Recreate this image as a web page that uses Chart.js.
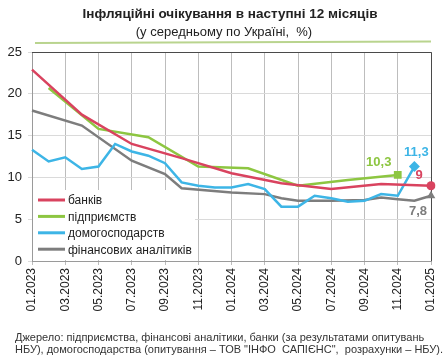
<!DOCTYPE html>
<html lang="uk">
<head>
<meta charset="utf-8">
<script src="https://cdn.jsdelivr.net/npm/chart.js@4.4.1/dist/chart.umd.min.js"></script>
<style>
  html, body { margin: 0; padding: 0; background: #fff; }
  #wrap { position: relative; width: 443px; height: 363px; font-family: Arial, "Liberation Sans", sans-serif; color: #222; }
  #chart { position: absolute; left: 0; top: 0; }
  .title { position: absolute; left: 0; text-align: center; line-height: 15px; white-space: nowrap; }
  #t1 { top: 6px; width: 460px; font-size: 13.5px; font-weight: bold; }
  #t2 { top: 24px; width: 448px; font-size: 13px; }
  #src { position: absolute; left: 15px; top: 331px; font-size: 11px; line-height: 12px; color: #333; white-space: nowrap; }
</style>
</head>
<body>
<div id="wrap">
  <canvas id="chart" width="443" height="363"></canvas>
  <div class="title" id="t1">Інфляційні очікування в наступні 12 місяців</div>
  <div class="title" id="t2">(у середньому по Україні,&nbsp; %)</div>
  <div id="src">Джерело: підприємства, фінансові аналітики, банки (за результатами опитувань<br>НБУ), домогосподарства (опитування – ТОВ "ІНФО&nbsp; САПІЄНС",&nbsp; розрахунки – НБУ).</div>
</div>
<script>
// місяці 01.2023 - 01.2025
const months = ['01.2023','02.2023','03.2023','04.2023','05.2023','06.2023','07.2023','08.2023','09.2023','10.2023','11.2023','12.2023',
                '01.2024','02.2024','03.2024','04.2024','05.2024','06.2024','07.2024','08.2024','09.2024','10.2024','11.2024','12.2024','01.2025'];

// очікування за групами респондентів (null - немає опитування)
const banks       = [22.9,null,null,17.5,null,null,14.0,null,null,12.3,null,null,10.5,null,null,9.3,null,null,8.6,null,null,9.2,null,null,9.0];
const enterprises = [null,20.7,null,null,15.8,null,null,14.8,null,null,11.3,null,null,11.1,null,null,9.0,null,null,9.7,null,null,10.3,null,null];
const households  = [13.3,11.9,12.4,11.0,11.3,14.0,13.1,12.6,11.7,9.4,9.0,8.8,8.8,9.2,8.6,6.5,6.5,7.8,7.5,7.1,7.2,8.0,7.8,11.3,null];
const analysts    = [18.0,null,null,16.2,null,null,12.0,null,10.4,8.7,null,null,8.2,null,8.0,7.5,7.2,null,7.2,null,7.3,7.6,7.4,7.2,7.8];

const seriesNames  = ['банків', 'підприємств', 'домогосподарств', 'фінансових аналітиків'];
const seriesColors = ['#d9435f', '#8dc641', '#3db5e6', '#7d7d7d'];
const markerStyles = ['circle', 'rect', 'rectRot', 'triangle'];
const markerSizes  = [4.5, 5.5, 5.5, 5];
const endLabels    = ['9', '10,3', '11,3', '7,8'];
const labelOffsets = [[-12, -10], [-19, -12], [2, -14], [-13, 16]];

const FONT = 'Arial, "Liberation Sans", sans-serif';

function lastIndex(arr) {
    for (let i = arr.length - 1; i >= 0; i--) if (arr[i] !== null) return i;
    return -1;
}

const allData = [banks, enterprises, households, analysts];

const datasets = allData.map((d, i) => ({
    label: seriesNames[i],
    data: d,
    borderColor: seriesColors[i],
    backgroundColor: seriesColors[i],
    borderWidth: 2.5,
    tension: 0,
    spanGaps: true,
    pointStyle: markerStyles[i],
    pointRadius: ctx => ctx.dataIndex === lastIndex(d) ? markerSizes[i] : 0,
    pointHoverRadius: 0,
    pointBorderWidth: 0
}));

// рамка та легенда всередині поля графіка
const frameAndLegend = {
    id: 'frameAndLegend',
    beforeDatasetsDraw(chart) {
        const ctx = chart.ctx, a = chart.chartArea;
        ctx.save();
        // зелена лінія над графіком
        ctx.strokeStyle = '#b9d48e';
        ctx.lineWidth = 2;
        ctx.beginPath();
        ctx.moveTo(a.left + 3, 43);
        ctx.lineTo(a.right, 41.5);
        ctx.stroke();

        ctx.strokeStyle = '#4a4a4a';
        ctx.lineWidth = 1;
        ctx.beginPath();
        ctx.moveTo(a.left, a.top + 0.5);
        ctx.lineTo(a.right + 0.5, a.top + 0.5);
        ctx.lineTo(a.right + 0.5, a.bottom);
        ctx.stroke();

        ctx.fillStyle = '#fff';
        ctx.fillRect(a.left + 1, a.bottom - 71, 162, 70);
        ctx.font = '12px ' + FONT;
        ctx.textBaseline = 'middle';
        ctx.textAlign = 'left';
        seriesNames.forEach((name, i) => {
            const y = a.bottom - 61 + i * 16.4;
            ctx.strokeStyle = seriesColors[i];
            ctx.lineWidth = 3;
            ctx.beginPath();
            ctx.moveTo(a.left + 6, y);
            ctx.lineTo(a.left + 33, y);
            ctx.stroke();
            ctx.fillStyle = '#222';
            ctx.fillText(name, a.left + 36, y + 1);
        });
        ctx.restore();
    },
    afterDatasetsDraw(chart) {
        const ctx = chart.ctx;
        ctx.save();
        ctx.font = 'bold 13px ' + FONT;
        ctx.textAlign = 'center';
        ctx.textBaseline = 'middle';
        allData.forEach((d, i) => {
            const pt = chart.getDatasetMeta(i).data[lastIndex(d)];
            ctx.fillStyle = seriesColors[i];
            ctx.fillText(endLabels[i], pt.x + labelOffsets[i][0], pt.y + labelOffsets[i][1]);
        });
        ctx.restore();
    }
};

new Chart(document.getElementById('chart').getContext('2d'), {
    type: 'line',
    data: { labels: months, datasets: datasets },
    options: {
        responsive: false,
        animation: false,
        layout: { padding: { left: 0, right: 12, top: 52, bottom: 52 } },
        plugins: {
            legend: { display: false },
            tooltip: { enabled: false },
            title: { display: false }
        },
        scales: {
            x: {
                grid: { color: '#bdbdbd', tickLength: 4 },
                border: { color: '#9a9a9a' },
                ticks: {
                    autoSkip: false,
                    minRotation: 90,
                    maxRotation: 90,
                    padding: 3,
                    color: '#222',
                    font: { family: FONT, size: 12 },
                    callback: function(val, idx) { return idx % 2 === 0 ? months[idx] : null; }
                },
                afterFit: s => { s.height = 50; s.paddingLeft = 0; s.paddingRight = 0; }
            },
            y: {
                min: 0,
                max: 25,
                grid: { color: '#dadada', tickLength: 4 },
                border: { color: '#9a9a9a' },
                ticks: {
                    stepSize: 5,
                    padding: 6,
                    color: '#222',
                    font: { family: FONT, size: 13 }
                },
                afterFit: s => { s.width = 32; }
            }
        }
    },
    plugins: [frameAndLegend]
});
</script>
</body>
</html>
